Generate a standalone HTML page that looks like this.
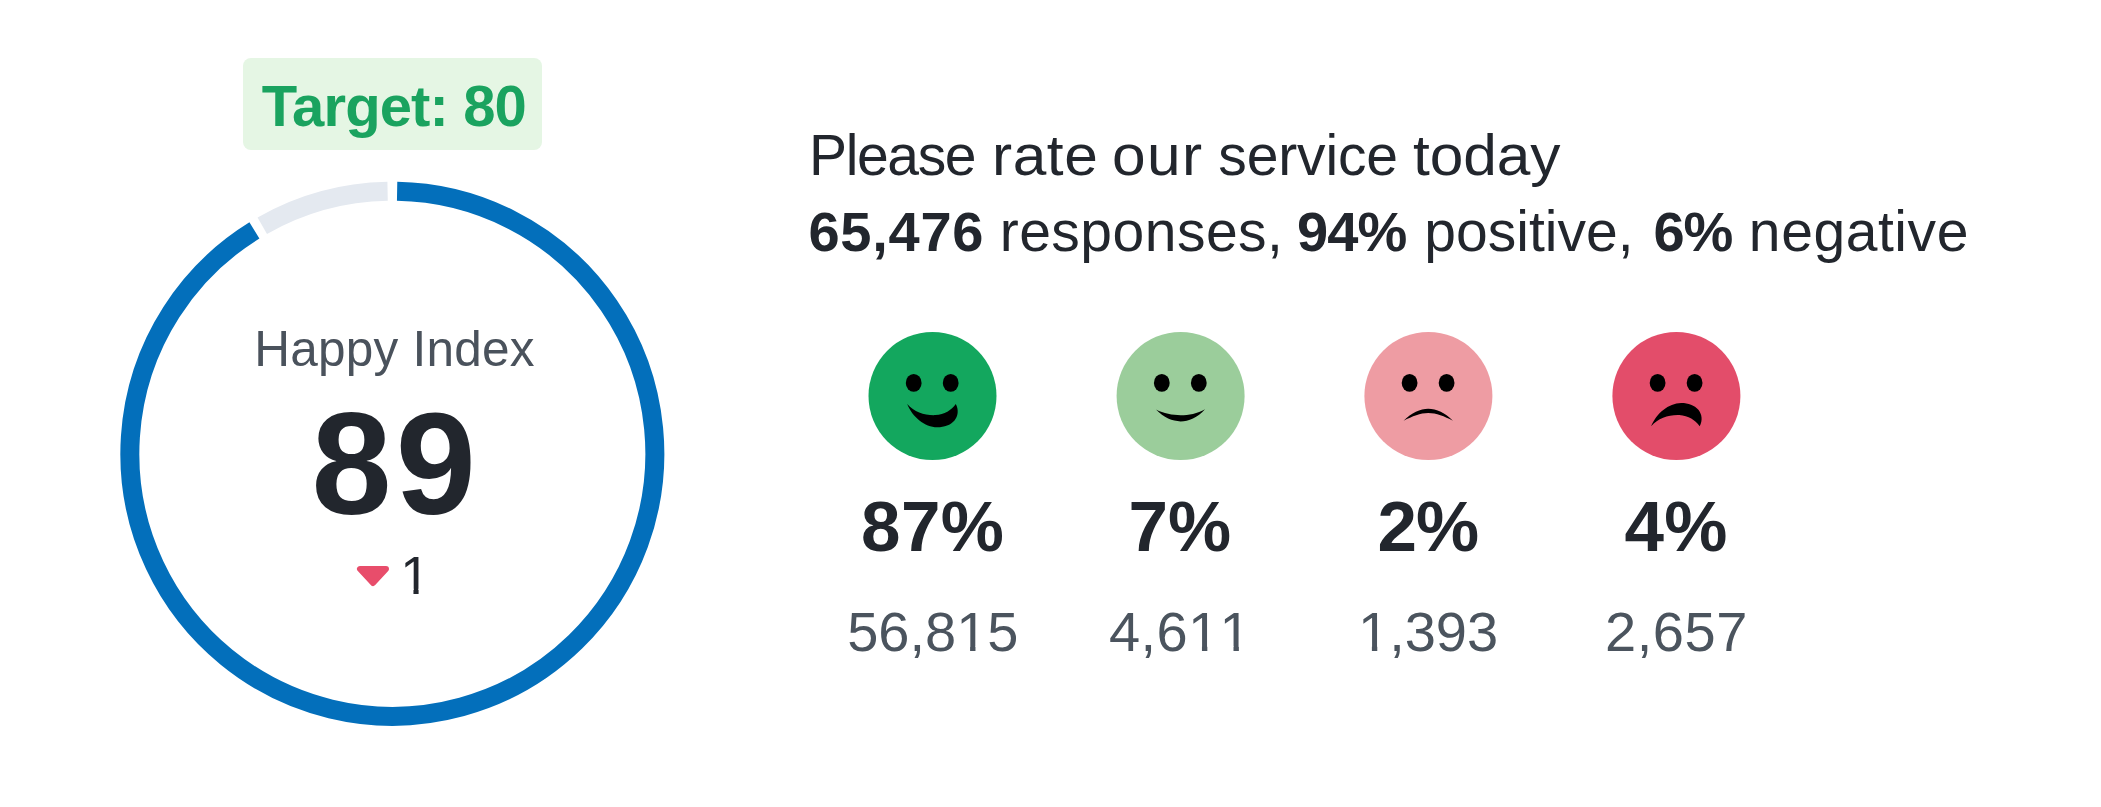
<!DOCTYPE html>
<html lang="en">
<head>
<meta charset="utf-8">
<title>Happy Index</title>
<style>
  html, body { margin: 0; padding: 0; background: #ffffff; }
  body { width: 2101px; height: 807px; position: relative; overflow: hidden;
         font-family: "Liberation Sans", sans-serif; color: #22262d; }
  .abs { position: absolute; white-space: nowrap; line-height: 1; margin: 0; }
  svg { position: absolute; left: 0; top: 0; }
  .badge { left: 243px; top: 58px; width: 299px; height: 92px; background: #e5f6e4; border-radius: 8px; }
  #t-target { left: 262px; top: 77.2px; font-size: 58px; font-weight: bold; color: #1aa35f; }
  #t-happy { left: 258px; top: 323.8px; font-size: 49.5px; color: #4a525c; }
  #t-89 { left: 315px; top: 393.3px; font-size: 144px; font-weight: bold; color: #22262d; }
  #t-1 { left: 400.2px; top: 548.6px; font-size: 53.5px; color: #22262d; }
  #t-h1 { left: 811px; top: 127px; font-size: 57px; color: #22262d; }
  #t-h2 { left: 811px; top: 203.3px; font-size: 57px; color: #22262d; }
  #t-h2 b { font-size: 56px; }
  .pct { font-size: 71px; font-weight: bold; color: #22262d; }
  .cnt { font-size: 56px; color: #4b545e; }
  #p1 { left: 863px; top: 490.8px; } #p2 { left: 1131px; top: 490.8px; }
  #p3 { left: 1380px; top: 490.8px; } #p4 { left: 1626px; top: 490.8px; }
  #c1 { left: 849px; top: 604px; } #c2 { left: 1110px; top: 604px; }
  #c3 { left: 1363px; top: 604px; } #c4 { left: 1608px; top: 604px; }
  .one { display: inline-block; clip-path: polygon(0 0, 2em 0, 2em .75em, .344em .75em, .344em 1em, .248em 1em, .248em .75em, 0 .75em); }
  #a2, #a3, #a5 { display: inline-block; transform: scaleX(1.06); transform-origin: 0 50%; }
  /*FIT*/
  #t-target { letter-spacing: -0.87px; margin-left: -0.20px; }
  #t-happy { letter-spacing: 0.24px; margin-left: -3.80px; }
  #t-89 { letter-spacing: 4.20px; margin-left: -3.60px; }
  #a1 { letter-spacing: -1.36px; margin-left: -2.00px; }
  #a2 { letter-spacing: 0.53px; margin-left: 1.00px; }
  #a3 { letter-spacing: 1.30px; margin-left: 4.00px; }
  #a4 { letter-spacing: -0.13px; margin-left: 4.00px; }
  #a5 { letter-spacing: -0.10px; margin-left: -1.00px; }
  #b1 { letter-spacing: 0.76px; margin-left: -2.60px; }
  #b2 { letter-spacing: 0.49px; margin-left: -0.40px; }
  #b3 { letter-spacing: -0.90px; margin-left: -2.20px; }
  #b4 { letter-spacing: 0.02px; margin-left: 2.00px; }
  #b5 { letter-spacing: -1.20px; margin-left: 4.00px; }
  #b6 { letter-spacing: 0.57px; margin-left: 1.00px; }
  #p1 { letter-spacing: 0.40px; margin-left: -2.00px; }
  #p2 { letter-spacing: 0.20px; margin-left: -2.60px; }
  #p3 { letter-spacing: -0.80px; margin-left: -2.60px; }
  #p4 { letter-spacing: 0.40px; margin-left: -1.60px; }
  #c1 { letter-spacing: 0.00px; margin-left: -1.80px; }
  #c2 { letter-spacing: 0.40px; margin-left: -1.00px; }
  #c3 { letter-spacing: 0.00px; margin-left: -5.00px; }
  #c4 { letter-spacing: 0.55px; margin-left: -3.00px; }
  /*ENDFIT*/
</style>
</head>
<body>
<svg width="2101" height="807" viewBox="0 0 2101 807">
  <!-- gauge ring -->
  <path d="M397.11 191.29A262.5 262.5 0 1 1 254.41 230.41" fill="none" stroke="#036fbb" stroke-width="19"/>
  <path d="M262.29 225.73A262.5 262.5 0 0 1 387.59 191.29" fill="none" stroke="#e4e9f0" stroke-width="19"/>
  <!-- delta triangle -->
  <path d="M360 569 L386 569 L373 583 Z" fill="#e84d6b" stroke="#e84d6b" stroke-width="6" stroke-linejoin="round"/>
  <!-- faces -->
  <g transform="translate(868.5,332)">
    <circle cx="64" cy="64" r="64" fill="#13a75e"/>
    <ellipse cx="45.2" cy="50.9" rx="7.9" ry="8.9" fill="#000"/>
    <ellipse cx="82.2" cy="50.9" rx="7.9" ry="8.9" fill="#000"/>
    <path d="M38.7 71.9 C46 80 56 83.5 66.9 83.1 C76 82.5 83 78 87.3 71.9 C90.5 78 89.5 84 86 88.5 C82 93 76 95.3 68.8 95.3 C56 95 44 85 38.7 71.9 Z" fill="#000"/>
  </g>
  <g transform="translate(1116.6,332)">
    <circle cx="64" cy="64" r="64" fill="#9bcd9b"/>
    <ellipse cx="45.2" cy="50.9" rx="7.9" ry="8.9" fill="#000"/>
    <ellipse cx="82.2" cy="50.9" rx="7.9" ry="8.9" fill="#000"/>
    <path d="M39.4 77.6 C47 81.6 56 83.2 64 83.2 C72 83.2 81 81.6 88.4 77.2 C81 85.6 72 89.4 64 89.4 C56 89.4 47 85.6 39.4 77.6 Z" fill="#000"/>
  </g>
  <g transform="translate(1364.4,332)">
    <circle cx="64" cy="64" r="64" fill="#ee9ca3"/>
    <ellipse cx="45.2" cy="50.9" rx="7.9" ry="8.9" fill="#000"/>
    <ellipse cx="82.2" cy="50.9" rx="7.9" ry="8.9" fill="#000"/>
    <path d="M39.2 88.8 C47 80.6 56 76.7 63.8 76.7 C72 76.7 81 80.6 88.5 88.8 C80 84.4 72 81.1 63.8 81.1 C56 81.1 48 84.4 39.2 88.8 Z" fill="#000"/>
  </g>
  <g transform="translate(1612.4,332)">
    <circle cx="64" cy="64" r="64" fill="#e34d6a"/>
    <ellipse cx="45.2" cy="50.9" rx="7.9" ry="8.9" fill="#000"/>
    <ellipse cx="82.2" cy="50.9" rx="7.9" ry="8.9" fill="#000"/>
    <path d="M38.7 94.3 C46 86.2 56 82.7 66.9 83.1 C76 83.7 83 88.2 87.3 94.3 C90.5 88.2 89.5 82.2 86 77.7 C82 73.2 76 70.9 68.8 70.9 C56 71.2 44 81.2 38.7 94.3 Z" fill="#000"/>
  </g>
</svg>
<div class="abs badge"></div>
<div class="abs" id="t-target">Target: 80</div>
<div class="abs" id="t-happy">Happy Index</div>
<div class="abs" id="t-89">89</div>
<div class="abs" id="t-1"><span class="one">1</span></div>
<div class="abs" id="t-h1"><span id="a1">Please</span> <span id="a2">rate</span> <span id="a3">our</span> <span id="a4">service</span> <span id="a5">today</span></div>
<div class="abs" id="t-h2"><b id="b1">65,476</b> <span id="b2">responses,</span> <b id="b3">94%</b> <span id="b4">positive,</span> <b id="b5">6%</b> <span id="b6">negative</span></div>
<div class="abs pct" id="p1">87%</div>
<div class="abs pct" id="p2">7%</div>
<div class="abs pct" id="p3">2%</div>
<div class="abs pct" id="p4">4%</div>
<div class="abs cnt" id="c1">56,8<span class="one">1</span>5</div>
<div class="abs cnt" id="c2">4,6<span class="one">1</span><span class="one">1</span></div>
<div class="abs cnt" id="c3"><span class="one">1</span>,393</div>
<div class="abs cnt" id="c4">2,657</div>
</body>
</html>
